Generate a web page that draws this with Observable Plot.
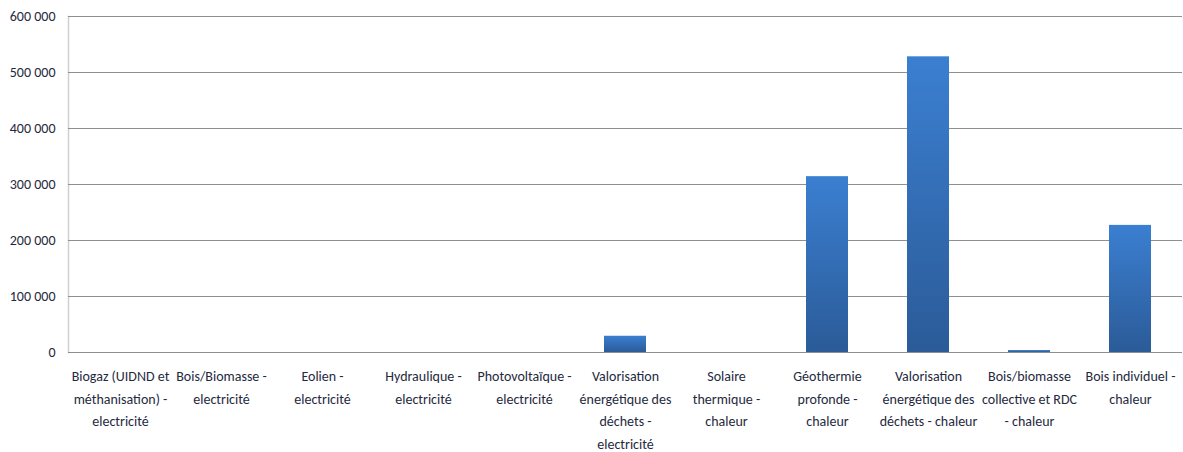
<!DOCTYPE html>
<html><head><meta charset="utf-8">
<script src="https://cdn.jsdelivr.net/npm/d3@7"></script>
<script src="https://cdn.jsdelivr.net/npm/@observablehq/plot@0.6"></script>
<style>body{margin:0;background:#fff;overflow:hidden;}</style>
</head><body><div id="chart"></div>
<script>
const categories = [
  "Biogaz (UIDND et méthanisation) - electricité",
  "Bois/Biomasse - electricité",
  "Eolien - electricité",
  "Hydraulique - electricité",
  "Photovoltaïque - electricité",
  "Valorisation énergétique des déchets - electricité",
  "Solaire thermique - chaleur",
  "Géothermie profonde - chaleur",
  "Valorisation énergétique des déchets - chaleur",
  "Bois/biomasse collective et RDC - chaleur",
  "Bois individuel - chaleur"
];
const values = [0, 0, 0, 0, 0, 29000, 0, 314000, 528000, 3500, 227000];
const tickLabels = [
  "Biogaz (UIDND et\nméthanisation) -\nelectricité",
  "Bois/Biomasse -\nelectricité",
  "Eolien -\nelectricité",
  "Hydraulique -\nelectricité",
  "Photovoltaïque -\nelectricité",
  "Valorisation\nénergétique des\ndéchets -\nelectricité",
  "Solaire\nthermique -\nchaleur",
  "Géothermie\nprofonde -\nchaleur",
  "Valorisation\nénergétique des\ndéchets - chaleur",
  "Bois/biomasse\ncollective et RDC\n- chaleur",
  "Bois individuel -\nchaleur"
];
const yTicks = [0, 100000, 200000, 300000, 400000, 500000, 600000];

const data = categories.map((c, i) => ({category: c, value: values[i]}));
const labelOf = new Map(categories.map((c, i) => [c, tickLabels[i]]));
const fmt = d => d3.format(",")(d).replace(/,/g, " ");
const font = "'Liberation Sans Narrow', Carlito, Lato, sans-serif";

const chart = Plot.plot({
  width: 1183, height: 452,
  marginLeft: 68, marginRight: 1, marginTop: 16, marginBottom: 100,
  style: {fontFamily: font, fontSize: "14px", color: "#1f2a40", background: "#fff"},
  x: {domain: categories, paddingInner: 0.585, paddingOuter: 0.2925, label: null, axis: null},
  y: {domain: [0, 600000], label: null, axis: null},
  marks: [
    Plot.frame({anchor: "left", stroke: "#d0d0d0", strokeWidth: 1.5}),
    Plot.gridY(yTicks, {stroke: "#8f8f8f", strokeOpacity: 1}),
    Plot.barY(data, {x: "category", y: "value", fill: "url(#barGrad)", style: "filter: drop-shadow(0px 0px 1.5px rgba(0,0,0,0.25))"}),
    Plot.axisY(yTicks, {tickSize: 0, tickPadding: 13, tickFormat: fmt, fontSize: 14, fill: "#1f2a40"}),
    Plot.axisX({tickSize: 0, tickPadding: 13, tickFormat: d => labelOf.get(d), lineHeight: 1.6, fontSize: 14, fill: "#1f2a40"})
  ]
});

const svgNS = "http://www.w3.org/2000/svg";
const defs = document.createElementNS(svgNS, "defs");
defs.innerHTML = `<linearGradient id="barGrad" x1="0" y1="0" x2="0" y2="1">
  <stop offset="0" stop-color="#3b7fd1"/>
  <stop offset="1" stop-color="#2b5b98"/>
</linearGradient>`;
chart.insertBefore(defs, chart.firstChild);
document.getElementById("chart").appendChild(chart);
</script>
</body></html>
